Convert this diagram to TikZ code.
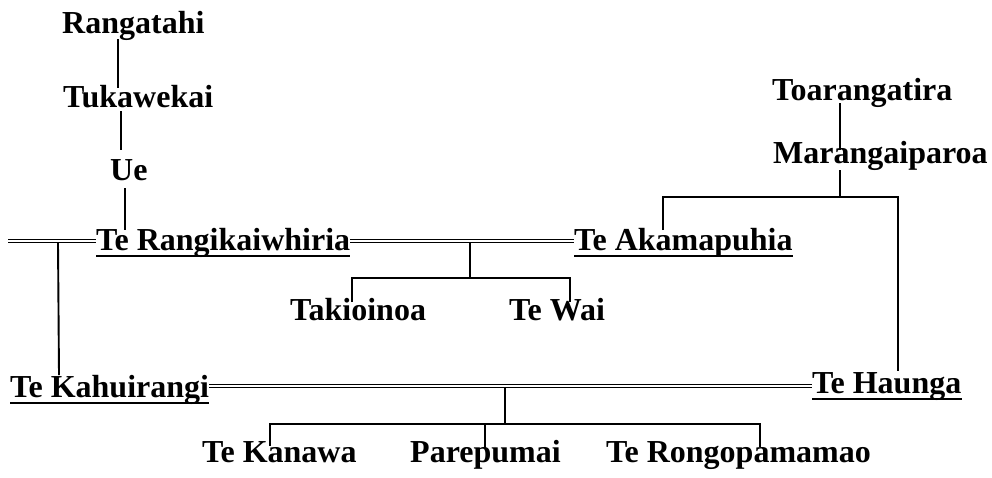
\documentclass[tikz,border=0pt]{standalone}
\usepackage{fontspec}
\setmainfont{Liberation Serif}
\begin{document}
\begin{tikzpicture}[x=1pt,y=-1pt,
  person/.style={font=\fontsize{32}{38}\selectfont\bfseries, anchor=base west, inner sep=0pt},
  link/.style={line width=1.9pt},
  marriage/.style={double, double distance=2.4pt, line width=1.1pt},
  uline/.style={line width=1.7pt}]
\useasboundingbox (0,0) rectangle (992,477);

% people
\node[person] (rangatahi) at (62,33) {Rangatahi};
\node[person] (tukawekai) at (63,107) {Tukawekai};
\node[person] (ue) at (110,180) {Ue};
\node[person] (terangi) at (96,250) {Te Rangikaiwhiria};
\node[person] (teaka) at (574,250) {Te Akamapuhia};
\node[person] (toara) at (772,100) {Toarangatira};
\node[person] (marang) at (773,163) {Marangaiparoa};
\node[person] (takio) at (290,320) {Takioinoa};
\node[person] (tewai) at (509,320) {Te Wai};
\node[person] (tekahu) at (10,397) {Te Kahuirangi};
\node[person] (tehaunga) at (812,393) {Te Haunga};
\node[person] (tekanawa) at (202,462) {Te Kanawa};
\node[person] (parep) at (410,462) {Parepumai};
\node[person] (terongo) at (606,462) {Te Rongopamamao};

% underlines
\foreach \n in {terangi,teaka,tekahu,tehaunga}
  \draw[uline] ([yshift=-6pt]\n.base west) -- ([yshift=-6pt]\n.base east);

% left line of descent
\coordinate (a1) at (118,39);  \coordinate (a2) at (118,88);
\coordinate (b1) at (121,111); \coordinate (b2) at (121,150);
\coordinate (d1) at (125,188); \coordinate (d2) at (125,230);
\draw[link] (a1) -- (a2);
\draw[link] (b1) -- (b2);
\draw[link] (d1) -- (d2);

% marriages of Te Rangikaiwhiria
\coordinate (ml) at (8,241);
\draw[marriage] (ml) -- (ml -| terangi.west);
\draw[marriage] (terangi.east |- ml) -- (teaka.west |- ml);

% Te Kahuirangi from the first marriage
\coordinate (k1) at (58,243);
\coordinate (k2) at (59,375);
\draw[link] (k1) -- (k2);

% children of Te Rangikaiwhiria and Te Akamapuhia
\coordinate (c1) at (470,243);
\coordinate (bar1) at (470,278);
\coordinate (takTop) at (352,302);
\coordinate (waiTop) at (570,302);
\draw[link] (c1) -- (bar1);
\draw[link] (takTop) |- (bar1) -| (waiTop);

% right line of descent
\coordinate (e1) at (840,103); \coordinate (e2) at (840,150);
\coordinate (bar2) at (840,197);
\coordinate (akTop) at (663,230);
\coordinate (haTop) at (898,371);
\draw[link] (e1) -- (e2);
\draw[link] (marang.south -| bar2) -- (bar2);
\draw[link] (akTop) |- (bar2) -| (haTop);

% marriage of Te Kahuirangi and Te Haunga
\coordinate (m2) at (0,386);
\draw[marriage] (tekahu.east |- m2) -- (tehaunga.west |- m2);

% their children
\coordinate (c2) at (505,388);
\coordinate (bar3) at (505,424);
\coordinate (kanTop) at (270,446);
\coordinate (parTop) at (485,448);
\coordinate (rongoTop) at (760,447);
\draw[link] (c2) -- (bar3);
\draw[link] (kanTop) |- (bar3) -| (rongoTop);
\draw[link] (parTop) -- (parTop |- bar3);
\end{tikzpicture}
\end{document}
